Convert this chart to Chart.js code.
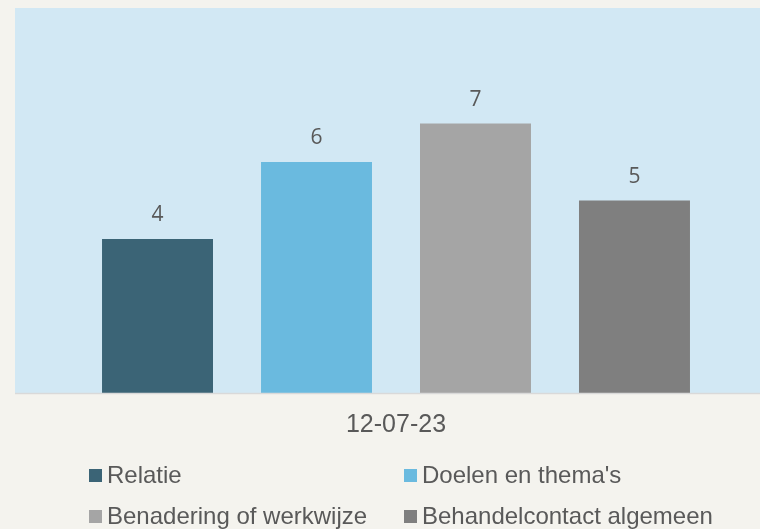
<!DOCTYPE html>
<html>
<head>
<meta charset="utf-8">
<script src="https://cdn.jsdelivr.net/npm/chart.js@4"></script>
<style>
  html, body { margin: 0; padding: 0; background: #f4f3ee; overflow: hidden; width: 760px; height: 529px; }
  #wrap { width: 792px; height: 529px; }
</style>
</head>
<body>
<div id="wrap"><canvas id="c" width="792" height="529"></canvas></div>
<script>
const categories = ["12-07-23"];
const seriesNames = ["Relatie", "Doelen en thema's", "Benadering of werkwijze", "Behandelcontact algemeen"];
const seriesValues = [[4], [6], [7], [5]];
const seriesColors = ["#3b6476", "#6abadf", "#a5a5a5", "#7f7f7f"];

const TEXT = "#595959";

const decorPlugin = {
  id: "decor",
  beforeDraw(chart) {
    const { ctx, chartArea: a } = chart;
    ctx.save();
    ctx.fillStyle = "#d2e8f4";
    ctx.fillRect(a.left, a.top, a.right - a.left, a.bottom - a.top);
    ctx.restore();
  },
  afterDatasetsDraw(chart) {
    const { ctx, chartArea: a } = chart;
    ctx.save();
    // baseline
    ctx.strokeStyle = "#d9d9d9";
    ctx.lineWidth = 1.5;
    ctx.beginPath();
    ctx.moveTo(a.left, a.bottom + 0.5);
    ctx.lineTo(a.right, a.bottom + 0.5);
    ctx.stroke();
    // value labels
    ctx.fillStyle = TEXT;
    ctx.font = "21px 'Open Sans', 'Noto Sans', sans-serif";
    ctx.textAlign = "center";
    ctx.textBaseline = "alphabetic";
    chart.data.datasets.forEach((ds, i) => {
      const meta = chart.getDatasetMeta(i);
      meta.data.forEach((bar, j) => {
        ctx.fillText(String(ds.data[j]), bar.x, bar.y - 18);
      });
    });
    // category label
    const xs = chart.scales.x;
    ctx.font = "25px 'Liberation Sans', Arial, sans-serif";
    categories.forEach((c, j) => {
      ctx.fillText(c, xs.getPixelForValue(j), 432);
    });
    // legend (2 columns)
    ctx.font = "24px 'Liberation Sans', Arial, sans-serif";
    ctx.textAlign = "left";
    const colX = [89, 404];
    const rowY = [469, 510];
    chart.data.datasets.forEach((ds, i) => {
      const x = colX[i % 2], y = rowY[Math.floor(i / 2)];
      ctx.fillStyle = ds.backgroundColor;
      ctx.fillRect(x, y, 13, 13);
      ctx.fillStyle = TEXT;
      ctx.fillText(ds.label, x + 18, y + 14);
    });
    ctx.restore();
  }
};

new Chart(document.getElementById("c"), {
  type: "bar",
  data: {
    labels: categories,
    datasets: seriesNames.map((n, i) => ({
      label: n,
      data: seriesValues[i],
      backgroundColor: seriesColors[i],
      borderWidth: 0,
      categoryPercentage: 0.8346,
      barPercentage: 0.698
    }))
  },
  options: {
    responsive: false,
    animation: false,
    devicePixelRatio: 1,
    layout: { padding: { left: 15, right: 15, top: 8, bottom: 136 } },
    plugins: { legend: { display: false }, tooltip: { enabled: false } },
    scales: {
      x: { display: false },
      y: { display: false, min: 0, max: 10 }
    }
  },
  plugins: [decorPlugin]
});
</script>
</body>
</html>
